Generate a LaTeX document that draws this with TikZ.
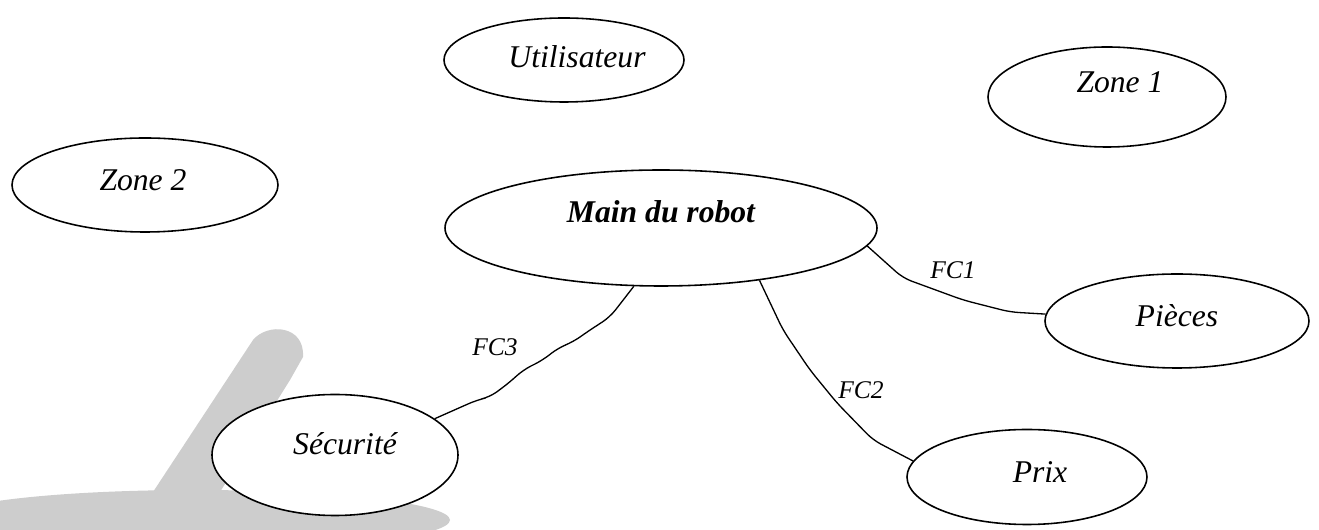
\documentclass[tikz,border=0pt]{standalone}
\usepackage{fontspec}
\setmainfont{Liberation Serif}
\usetikzlibrary{shapes.geometric}
\definecolor{shadowgrey}{RGB}{205,205,205}
\begin{document}
\begin{tikzpicture}[
		oval/.style={ellipse, draw, fill=white, line width=0.9pt, inner sep=0},
		txt/.style={inner sep=0, font=\itshape\fontsize{18}{21}\selectfont},
		fc/.style={inner sep=0, font=\itshape\fontsize{14.5}{17}\selectfont},
		link/.style={line width=0.75pt, rounded corners=5pt},
	]
	\useasboundingbox (0,0) rectangle (26.38,10.6);
	% shadow of the hand
	\fill[shadowgrey] (3.9,0.2) ellipse (5.1 and 0.6);
	\fill[shadowgrey] (3.06,0.76) -- (5.06,3.8) .. controls (5.35,4.15) and (6.1,4.1) .. (6.06,3.46) -- (5.8,3.0) -- (4.3,0.6) -- cycle;
	% ellipses
	\node[oval, minimum width=4.8cm, minimum height=1.68cm] (util) at (11.28,9.4) {};
	\node[oval, minimum width=4.76cm, minimum height=2.0cm] (zone1) at (22.14,8.66) {};
	\node[oval, minimum width=5.32cm, minimum height=1.88cm] (zone2) at (2.9,6.9) {};
	\node[oval, minimum width=8.64cm, minimum height=2.32cm] (main) at (13.22,6.04) {};
	\node[oval, minimum width=5.28cm, minimum height=1.88cm] (pieces) at (23.54,4.18) {};
	\node[oval, minimum width=4.8cm, minimum height=1.9cm] (prix) at (20.54,1.06) {};
	\node[oval, minimum width=4.92cm, minimum height=2.42cm] (secu) at (6.7,1.5) {};
	% texts
	\node[txt] (utiltxt) at ([shift={(0.26,0.06)}]util.center) {Utilisateur};
	\node[txt] (zone1txt) at ([shift={(0.26,0.3)}]zone1.center) {Zone 1};
	\node[txt] (zone2txt) at ([shift={(-0.04,0.1)}]zone2.center) {Zone 2};
	\node[txt, font=\bfseries\itshape\fontsize{18}{21}\selectfont] (maintxt) at ([shift={(0,0.32)}]main.center) {Main du robot};
	\node[txt] (piecestxt) at ([shift={(0,0.1)}]pieces.center) {Pièces};
	\node[txt] (prixtxt) at ([shift={(0.26,0.1)}]prix.center) {Prix};
	\node[txt] (secutxt) at ([shift={(0.2,0.22)}]secu.center) {Sécurité};
	% connectors
	\draw[link] (main.-5) -- (18.06,5.04) -- (19.26,4.6) -- (20.2,4.36) -- (pieces.177);
	\draw[link] (main.-28) -- (15.66,4.0) -- (16.2,3.2) -- (16.74,2.54) -- (17.46,1.8) -- (prix.172);
	\draw[link] (main.245) -- (12.2,4.26) -- (11.74,3.96) -- (11.46,3.76) -- (11.16,3.64) -- (10.86,3.4) -- (10.46,3.2) -- (10.2,2.96) -- (9.8,2.66) -- (9.54,2.6) -- (secu.20);
	\node[fc] (fc1) at (19.06,5.2) {FC1};
	\node[fc] (fc2) at (17.22,2.8) {FC2};
	\node[fc] (fc3) at (9.9,3.66) {FC3};
\end{tikzpicture}
\end{document}
